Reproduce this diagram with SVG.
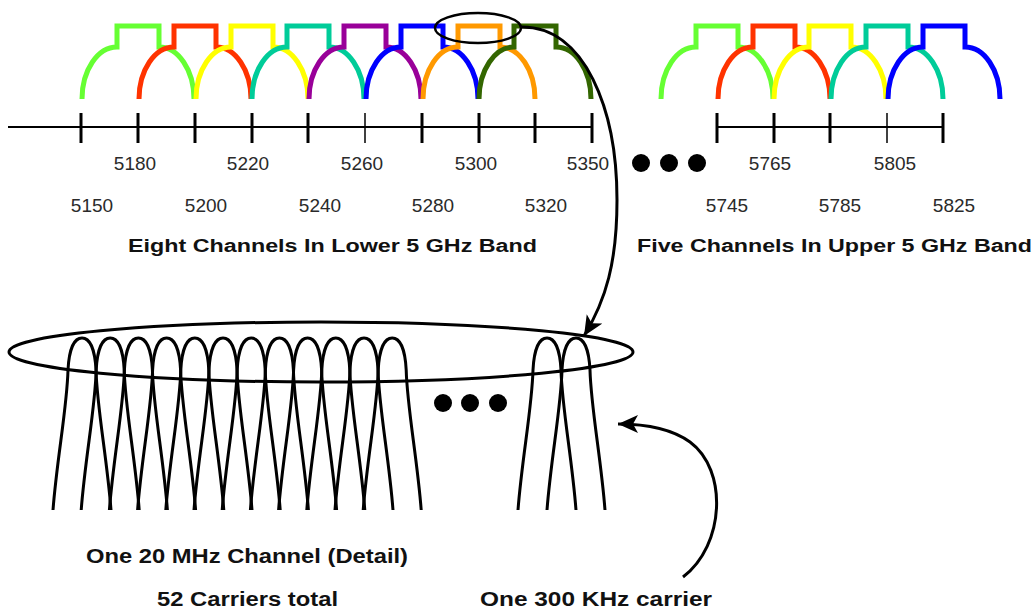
<svg xmlns="http://www.w3.org/2000/svg" xmlns:xlink="http://www.w3.org/1999/xlink" width="1036" height="610" viewBox="0 0 1036 610">
<style>
.ch{fill:none;stroke-width:5;stroke-linejoin:miter}
.ax{stroke:#000;stroke-width:2;fill:none}
.tk{stroke:#000;stroke-width:3}
.tkt{stroke:#000;stroke-width:1.5}
.num{font-family:"Liberation Sans",Arial,sans-serif;font-size:19px;fill:#2a2a2a;text-anchor:middle}
.lbl{font-family:"Liberation Sans",Arial,sans-serif;font-weight:bold;fill:#111}
.arch{fill:none;stroke:#000;stroke-width:3}
.conn{fill:none;stroke:#000;stroke-width:3}
</style>
<defs>
<path id="chan" d="M-56,99 A35 52 0 0 1 -21,47 L-21,26 L21,26 L21,47 A35 52 0 0 1 56,99"/>
<path id="carrier" d="M-29,172 C-25,120 -15,70 -14,32 C-13,12 -8,0 0,0 C8,0 13,12 14,32 C15,70 25,120 29,172"/>
<marker id="ah" markerUnits="userSpaceOnUse" markerWidth="22" markerHeight="20" refX="20" refY="9" orient="auto">
<path d="M0,0 L20,9 L0,18 L5,9 Z" fill="#000"/>
</marker>
</defs>

<g id="lower-band">
<g id="lower-channels">
<use xlink:href="#chan" class="ch" x="138" stroke="#66ff33"/>
<use xlink:href="#chan" class="ch" x="195" stroke="#ff3300"/>
<use xlink:href="#chan" class="ch" x="252" stroke="#ffff00"/>
<use xlink:href="#chan" class="ch" x="308" stroke="#00cc99"/>
<use xlink:href="#chan" class="ch" x="365" stroke="#990099"/>
<use xlink:href="#chan" class="ch" x="422" stroke="#0000ff"/>
<use xlink:href="#chan" class="ch" x="479" stroke="#ff9900"/>
<use xlink:href="#chan" class="ch" x="535" stroke="#336600"/>
</g>
<g id="lower-axis">
<line class="ax" x1="8" y1="127" x2="592" y2="127"/>
<line class="tk" x1="81" y1="113" x2="81" y2="143"/>
<line class="tk" x1="138" y1="113" x2="138" y2="143"/>
<line class="tk" x1="195" y1="113" x2="195" y2="143"/>
<line class="tk" x1="252" y1="113" x2="252" y2="143"/>
<line class="tk" x1="308" y1="113" x2="308" y2="143"/>
<line class="tkt" x1="365" y1="113" x2="365" y2="143"/>
<line class="tk" x1="422" y1="113" x2="422" y2="143"/>
<line class="tk" x1="479" y1="113" x2="479" y2="143"/>
<line class="tk" x1="535" y1="113" x2="535" y2="143"/>
<line class="tk" x1="592" y1="113" x2="592" y2="143"/>
</g>
<g id="lower-labels">
<text class="num" x="135" y="170">5180</text>
<text class="num" x="248" y="170">5220</text>
<text class="num" x="362" y="170">5260</text>
<text class="num" x="476" y="170">5300</text>
<text class="num" x="588" y="170">5350</text>
<text class="num" x="92" y="212">5150</text>
<text class="num" x="206" y="212">5200</text>
<text class="num" x="320" y="212">5240</text>
<text class="num" x="433" y="212">5280</text>
<text class="num" x="546" y="212">5320</text>
<text class="lbl" x="128" y="252" font-size="18" textLength="409" lengthAdjust="spacingAndGlyphs">Eight Channels In Lower 5 GHz Band</text>
</g>
</g>

<g id="band-gap-dots">
<circle cx="641" cy="163" r="9" fill="#000"/>
<circle cx="669" cy="163" r="9" fill="#000"/>
<circle cx="697" cy="163" r="9" fill="#000"/>
</g>

<g id="upper-band">
<g id="upper-channels">
<use xlink:href="#chan" class="ch" x="717" stroke="#66ff33"/>
<use xlink:href="#chan" class="ch" x="774" stroke="#ff3300"/>
<use xlink:href="#chan" class="ch" x="830" stroke="#ffff00"/>
<use xlink:href="#chan" class="ch" x="887" stroke="#00cc99"/>
<use xlink:href="#chan" class="ch" x="944" stroke="#0000ff"/>
</g>
<g id="upper-axis">
<line class="ax" x1="717" y1="127" x2="943" y2="127"/>
<line class="tk" x1="717" y1="113" x2="717" y2="143"/>
<line class="tk" x1="774" y1="113" x2="774" y2="143"/>
<line class="tk" x1="830" y1="113" x2="830" y2="143"/>
<line class="tkt" x1="887" y1="113" x2="887" y2="143"/>
<line class="tk" x1="943" y1="113" x2="943" y2="143"/>
</g>
<g id="upper-labels">
<text class="num" x="770" y="170">5765</text>
<text class="num" x="895" y="170">5805</text>
<text class="num" x="727" y="212">5745</text>
<text class="num" x="840" y="212">5785</text>
<text class="num" x="954" y="212">5825</text>
<text class="lbl" x="637" y="252" font-size="18" textLength="395" lengthAdjust="spacingAndGlyphs">Five Channels In Upper 5 GHz Band</text>
</g>
</g>

<g id="channel-highlight">
<ellipse cx="478" cy="28" rx="43" ry="15" fill="none" stroke="#000" stroke-width="2.5"/>
</g>

<g id="channel-detail">
<ellipse cx="321" cy="352" rx="312" ry="30" fill="none" stroke="#000" stroke-width="3"/>
<g id="carriers">
<use xlink:href="#carrier" class="arch" x="82" y="338"/>
<use xlink:href="#carrier" class="arch" x="110.2" y="338"/>
<use xlink:href="#carrier" class="arch" x="138.4" y="338"/>
<use xlink:href="#carrier" class="arch" x="166.6" y="338"/>
<use xlink:href="#carrier" class="arch" x="194.8" y="338"/>
<use xlink:href="#carrier" class="arch" x="223" y="338"/>
<use xlink:href="#carrier" class="arch" x="251.2" y="338"/>
<use xlink:href="#carrier" class="arch" x="279.4" y="338"/>
<use xlink:href="#carrier" class="arch" x="307.6" y="338"/>
<use xlink:href="#carrier" class="arch" x="335.8" y="338"/>
<use xlink:href="#carrier" class="arch" x="364" y="338"/>
<use xlink:href="#carrier" class="arch" x="392.2" y="338"/>
<use xlink:href="#carrier" class="arch" x="547" y="338"/>
<use xlink:href="#carrier" class="arch" x="576" y="338" stroke="#00cc99"/>
</g>
<g id="carrier-dots">
<circle cx="443" cy="403" r="9" fill="#000"/>
<circle cx="470" cy="403" r="9" fill="#000"/>
<circle cx="498" cy="403" r="9" fill="#000"/>
</g>
<text class="lbl" x="86" y="563" font-size="20" textLength="322" lengthAdjust="spacingAndGlyphs">One 20 MHz Channel (Detail)</text>
<text class="lbl" x="157" y="606" font-size="20" textLength="181" lengthAdjust="spacingAndGlyphs">52 Carriers total</text>
</g>

<g id="carrier-label">
<text class="lbl" x="480" y="606" font-size="20" textLength="232" lengthAdjust="spacingAndGlyphs">One 300 KHz carrier</text>
</g>

<g id="connectors">
<path class="conn" d="M521,27 C585,26 617,110 617,200 C617,262 606,300 584,336" marker-end="url(#ah)"/>
<path class="conn" d="M683,577 C725,545 728,470 690,442 C672,429 648,424 618,424" marker-end="url(#ah)"/>
</g>
</svg>
